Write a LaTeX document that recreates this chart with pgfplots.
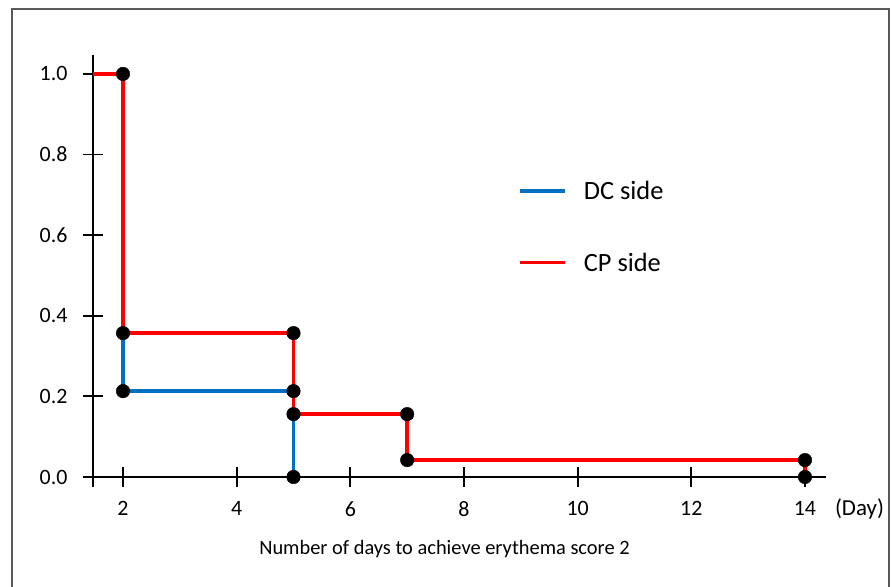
\documentclass[border=0pt]{standalone}
\usepackage{fontspec}
\setmainfont{Carlito}
\usepackage{pgfplots}
\pgfplotsset{compat=1.18}
\definecolor{dcblue}{RGB}{0,112,192}
\definecolor{cpred}{RGB}{255,0,0}
\definecolor{framegray}{RGB}{90,90,90}

\begin{document}
\begin{tikzpicture}[x=1bp,y=1bp]
\useasboundingbox (0,0) rectangle (891,587);
% outer frame
\draw[framegray, line width=2bp] (12,-3) -- (12,578) -- (889,578) -- (889,-3);
\begin{axis}[
  at={(93bp,110bp)}, anchor=south west,
  scale only axis, width=733bp, height=422bp,
  xmin=1.472, xmax=14.37, ymin=0, ymax=1.047,
  clip=false,
  font=\fontsize{22}{26}\selectfont,
  axis x line=bottom, axis y line=left,
  axis line style={-, line width=1.8bp, black},
  xtick={2,4,6,8,10,12,14}, ytick={0,0.2,0.4,0.6,0.8,1.0},
  tick align=center, major tick length=20bp,
  tick style={line width=1.8bp, black},
  /pgf/number format/assume math mode=true,
  x tick label style={yshift=-11bp},
  y tick label style={xshift=-12bp, /pgf/number format/fixed, /pgf/number format/fixed zerofill, /pgf/number format/precision=1},
  legend style={at={(axis cs:8.90,0.745)}, anchor=north west, draw=none, fill=none,
    font=\fontsize{26.5}{31}\selectfont, row sep=48bp},
  legend cell align=left,
  legend image code/.code={\draw[#1] (0bp,0bp) -- (45bp,0bp); \path (60bp,0bp);},
]
% y axis continues a little below zero
\draw[line width=1.8bp] (axis cs:1.472,0) -- (axis cs:1.472,-0.0248);

% DC side
\addplot[dcblue, line width=3.5bp] coordinates {
  (1.472,1) (2,1) (2,0.213) (5,0.213) (5,0)
};
% CP side
\addplot[cpred, line width=3.5bp] coordinates {
  (1.472,1) (2,1) (2,0.357) (5,0.357) (5,0.156) (7,0.156) (7,0.042) (14,0.042) (14,0)
};
% event markers
\addplot[only marks, mark=*, mark size=6.8bp, black, forget plot] coordinates {
  (2,1) (2,0.357) (2,0.213) (5,0.357) (5,0.213) (5,0.156) (5,0)
  (7,0.156) (7,0.042) (14,0.042) (14,0)
};
\legend{DC side, CP side}
\end{axis}
\node[font=\fontsize{20.5}{25}\selectfont] at (444.5,38) {Number of days to achieve erythema score 2};
\node[font=\fontsize{23}{27}\selectfont] at (859.5,78) {(Day)};
\end{tikzpicture}
\end{document}
